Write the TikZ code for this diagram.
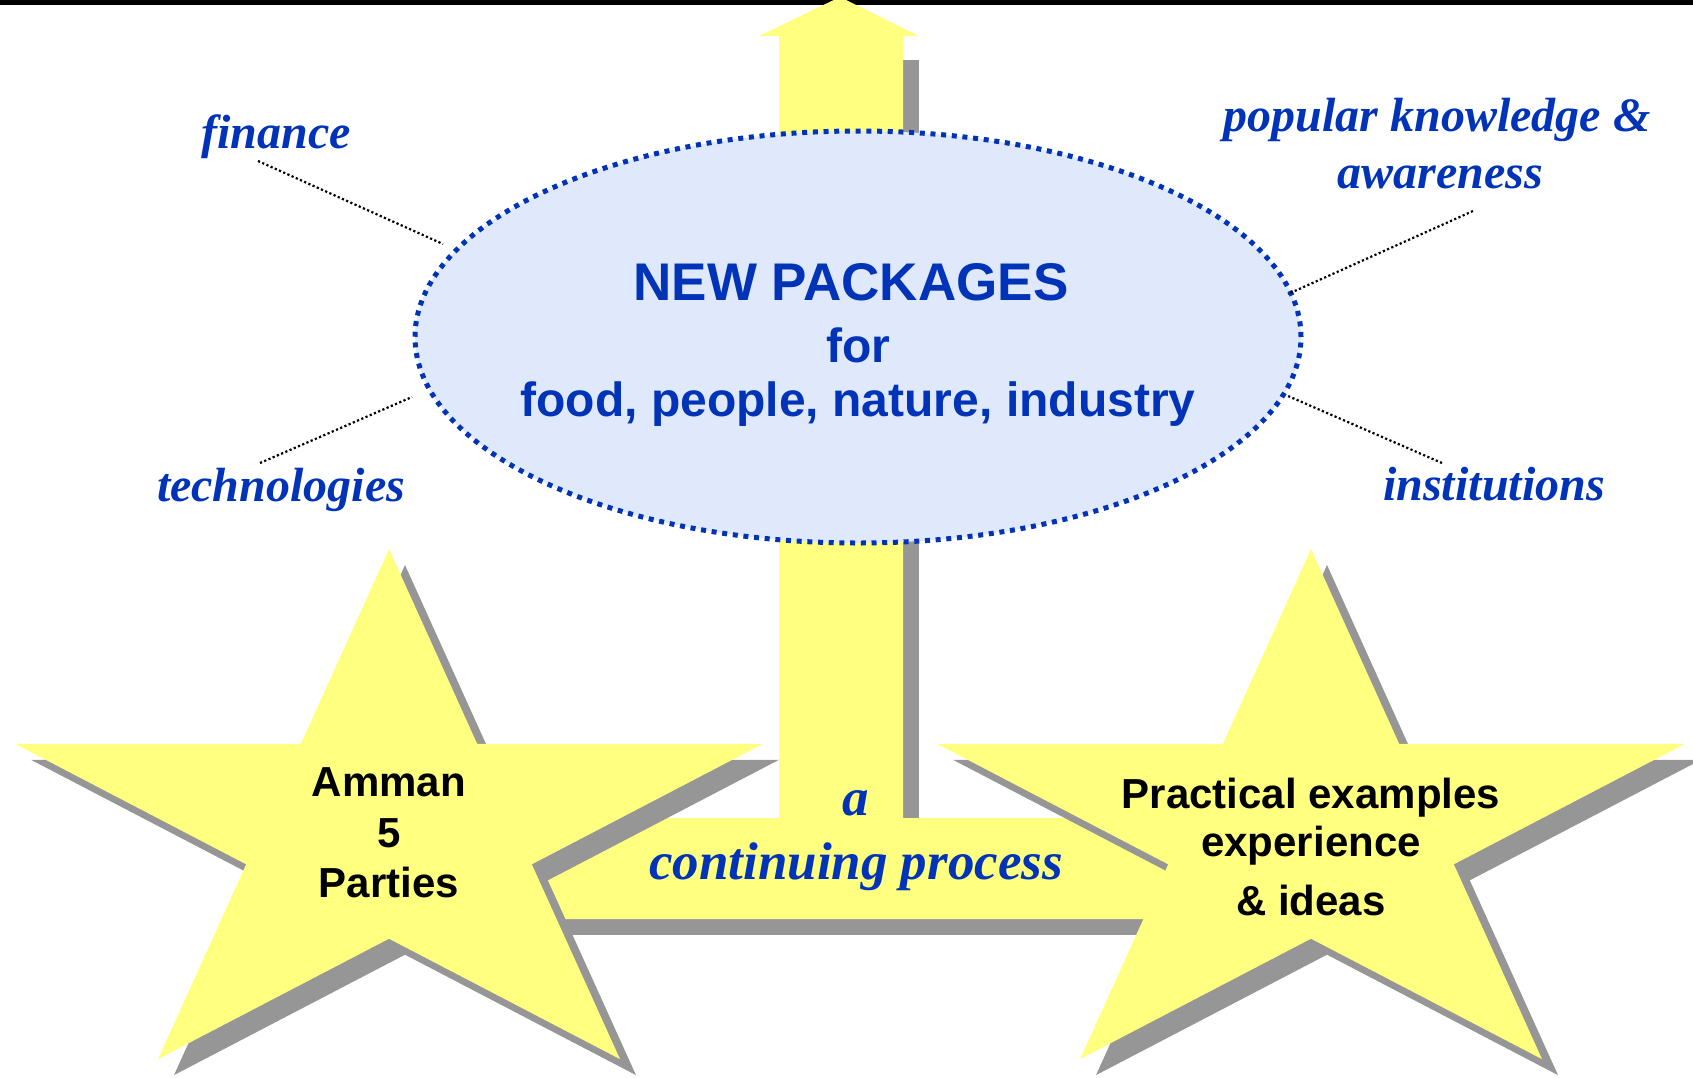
\documentclass[tikz,border=0pt]{standalone}
\usepackage{fontspec}
\setmainfont{Liberation Serif}
\newfontfamily\arialf{Liberation Sans}
\usetikzlibrary{shapes.geometric}
\definecolor{txtblue}{RGB}{0,51,184}
\definecolor{ellfill}{RGB}{224,233,252}
\definecolor{ylw}{RGB}{255,255,128}
\definecolor{shgray}{RGB}{150,150,150}
\newcommand\starfill[3]{\fill[#1,shift={(#2,#3)}] (0,-282) -- (-88.2,-87.1) -- (-373.8,-87.1) -- (-142.8,33.3) -- (-231,228.1) -- (0,107.7) -- (231,228.1) -- (142.8,33.3) -- (373.8,-87.1) -- (88.2,-87.1) -- cycle;}
\begin{document}
\begin{tikzpicture}[x=1pt,y=-1pt,
  lbl/.style={font=\fontsize{48}{56}\selectfont\bfseries\itshape, text=txtblue, anchor=base, inner sep=0pt},
  proc/.style={font=\fontsize{53}{60}\selectfont\bfseries\itshape, text=txtblue, anchor=base, inner sep=0pt},
  head/.style={font=\arialf\fontsize{53}{60}\selectfont\bfseries, text=txtblue, anchor=base, inner sep=0pt},
  sub/.style={font=\arialf\fontsize{48}{56}\selectfont\bfseries, text=txtblue, anchor=base, inner sep=0pt},
  startxt/.style={font=\arialf\fontsize{42}{50}\selectfont\bfseries, text=black, anchor=base, inner sep=0pt},
  conn/.style={draw=black, line width=2.2pt, dash pattern=on 2.2pt off 2.4pt}]
\useasboundingbox (0,0) rectangle (1693,1077);
\clip (0,0) rectangle (1693,1077);
% top bar
\fill[black] (0,0) rectangle (1693,5);
% arrow shadow
\fill[shgray] (903,60) rectangle (919,834);
\fill[shgray] (466,834) rectangle (1256,935);
% arrow body
\fill[ylw] (779,36) -- (759,36) -- (840,-3) -- (919,36) -- (903,36) -- (903,818)
  -- (1240,818) -- (1240,919) -- (450,919) -- (450,818) -- (779,818) -- cycle;
% stars
\starfill{shgray}{405}{847}
\starfill{shgray}{1327}{847}
\starfill{ylw}{389}{831}
\starfill{ylw}{1311}{831}
% ellipse
\node[ellipse, draw=txtblue, fill=ellfill, line width=5pt, dash pattern=on 5pt off 5.7pt,
  minimum width=886pt, minimum height=412pt, inner sep=0pt] (pkg) at (858,337) {};
\node[head] (pkg1) at (851,300) {NEW PACKAGES};
\node[sub] (pkg2) at (858,362) {for};
\node[sub] (pkg3) at (858,416) {food, people, nature, industry};
% labels
\node[lbl] (fin) at (276,148) {finance};
\node[lbl] (pop1) at (1437,131) {popular knowledge \&};
\node[lbl] (pop2) at (1440,188) {awareness};
\node[lbl] (tech) at (281,501) {technologies};
\node[lbl] (inst) at (1494,500) {institutions};
\node[proc] (pa) at (856,815) {a};
\node[proc] (pb) at (856,879) {continuing process};
% star texts
\node[startxt] (am1) at (389,796) {Amman};
\node[startxt] (am2) at (389,847) {5};
\node[startxt] (am3) at (389,897) {Parties};
\node[startxt] (pr1) at (1311,808) {Practical examples};
\node[startxt] (pr2) at (1311,856) {experience};
\node[startxt] (pr3) at (1311,915) {\& ideas};
% connectors
\coordinate (finA) at (258,161); \coordinate (finB) at (443,244);
\coordinate (popA) at (1473,211); \coordinate (popB) at (1288,294);
\coordinate (insA) at (1442,463); \coordinate (insB) at (1288,396);
\coordinate (tecA) at (260,463); \coordinate (tecB) at (412,397);
\draw[conn] (finA) -- (finB);
\draw[conn] (popA) -- (popB);
\draw[conn] (insA) -- (insB);
\draw[conn] (tecA) -- (tecB);
\end{tikzpicture}
\end{document}
